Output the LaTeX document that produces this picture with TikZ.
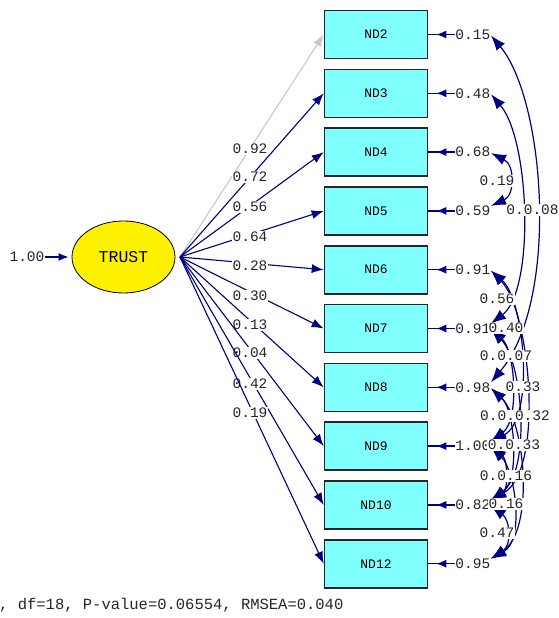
\documentclass[tikz,border=0pt]{standalone}
\usepackage{fontspec}
\newfontfamily\lismono{Liberation Mono}
\usetikzlibrary{arrows.meta,calc,shapes.geometric}
\definecolor{pathnavy}{RGB}{0,0,128}
\definecolor{obscyan}{RGB}{128,255,255}
\definecolor{fixedgray}{RGB}{200,200,200}
\begin{document}
\begin{tikzpicture}[x=1pt,y=-1pt,
  obsbox/.style={draw=black!85, line width=1.6pt, fill=obscyan,
    minimum width=103pt, minimum height=48pt, inner sep=0pt,
    font=\lismono\fontsize{13}{14}\selectfont},
  latent/.style={ellipse, draw=black, line width=0.8pt, fill=yellow,
    minimum width=103pt, minimum height=72pt, inner sep=0pt,
    font=\lismono\fontsize{16.5}{17}\selectfont},
  numlabel/.style={font=\lismono\fontsize{14.5}{15}\selectfont,
    inner sep=0.6pt, fill=white, text=black!85},
  loadpath/.style={draw=pathnavy, line width=1.1pt,
    -{Latex[length=12pt,width=9pt]}},
  varpath/.style={draw=pathnavy, line width=1.3pt,
    -{Latex[length=10pt,width=8pt]}, shorten >=3pt},
  errline/.style={draw=pathnavy, line width=1.3pt},
  errtip/.style={draw=pathnavy, line width=1.3pt,
    -{Latex[length=10pt,width=8pt]}, shorten >=8pt},
  covpath/.style={draw=pathnavy, line width=1.2pt,
    {Latex[length=15pt,width=11pt]}-{Latex[length=15pt,width=11pt]}}
]
\useasboundingbox (0,0) rectangle (559,618);

% latent factor and its variance
\node[latent] (trust) at (123.5,257) {TRUST};
\node[numlabel, fill=none] (tvar) at (27,257) {1.00};
\draw[varpath] (tvar) -- (trust);

% observed indicators
\foreach \n/\y in {2/34.5,3/93.3,4/152.1,5/210.9,6/269.7,7/328.5,8/387.3,9/446.1,10/504.9,12/563.7}
  \node[obsbox] (nd\n) at (376,\y) {ND\n};

% factor loadings
\coordinate (hub) at (180,257);
\draw[loadpath, draw=fixedgray, -{Latex[length=12pt,width=9pt,fill=fixedgray]}] (hub) -- (nd2.west);
\node[numlabel] (l2) at (250,149) {0.92};
\foreach \n/\ly/\v in {3/177/0.72, 4/207/0.56, 5/237/0.64, 6/266/0.28, 7/296/0.30,
                       8/325/0.13, 9/353/0.04, 10/384/0.42, 12/413/0.19} {
  \draw[loadpath] (hub) -- (nd\n.west);
  \node[numlabel] (l\n) at (250,\ly) {\v};
}

% measurement errors
\foreach \n/\v in {2/0.15,3/0.48,4/0.68,5/0.59,6/0.91,7/0.91,8/0.98,9/1.00,10/0.82,12/0.95} {
  \node[numlabel] (e\n) at ($(nd\n.east)+(44.5,0)$) {\v};
  \draw[errline] (e\n.west) -- (nd\n.east);
  \draw[errtip] (e\n.west) -- (nd\n.east);
  \coordinate (u\n) at ($(e\n.east)+(0,1)$);
  \coordinate (d\n) at ($(e\n.east)+(0,-5)$);
}

% error covariances
\draw[covpath] (u2) .. controls (545,100) and (560,300) .. (d8);
\draw[covpath] (u3) .. controls (530,140) and (535,290) .. (d7);
\draw[covpath] (u4) .. controls (515,165) and (515,195) .. (d5);
\draw[covpath] (u6) .. controls (525,300) and (535,420) .. (d9);
\draw[covpath] (u6) .. controls (530,310) and (545,470) .. (d10);
\draw[covpath] (u7) .. controls (515,350) and (520,420) .. (d9);
\draw[covpath] (u7) .. controls (522,360) and (532,470) .. (d10);
\draw[covpath] (u8) .. controls (515,410) and (520,480) .. (d10);
\draw[covpath] (u8) .. controls (525,420) and (535,530) .. (d12);
\draw[covpath] (u9) .. controls (515,470) and (525,540) .. (d12);
\draw[covpath] (u9) .. controls (508,460) and (508,490) .. (d10);
\draw[covpath] (u10) .. controls (510,520) and (512,545) .. (d12);

\node[numlabel] (c1) at (497,181) {0.19};
\node[numlabel] (c2) at (532.5,210) {0.0.08};
\node[numlabel] (c3) at (497,299) {0.56};
\node[numlabel] (c4) at (506,328) {0.40};
\node[numlabel] (c5) at (506,356) {0.0.07};
\node[numlabel] (c6) at (523,387) {0.33};
\node[numlabel] (c7) at (515,416) {0.0.0.32};
\node[numlabel] (c8) at (514,445) {0.0.33};
\node[numlabel] (c9) at (506,476) {0.0.16};
\node[numlabel] (c10) at (506,504) {0.16};
\node[numlabel] (c11) at (497,533) {0.47};

% fit statistics
\node[anchor=west, inner sep=0pt, text=black!85, font=\lismono\fontsize{15.5}{16}\selectfont] (fit) at (-1,605)
  {, df=18, P-value=0.06554, RMSEA=0.040};
\end{tikzpicture}
\end{document}
